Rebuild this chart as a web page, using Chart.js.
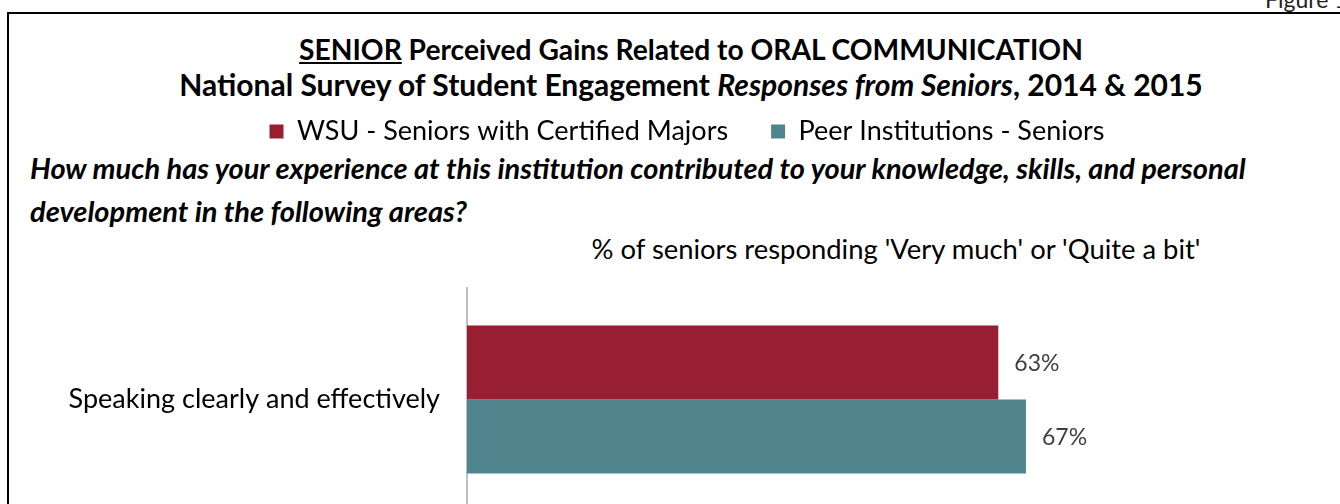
<!DOCTYPE html>
<html>
<head>
<meta charset="utf-8">
<script src="https://cdn.jsdelivr.net/npm/chart.js@4.4.1/dist/chart.umd.min.js"></script>
<style>
  html, body { margin:0; padding:0; width:1340px; height:504px; overflow:hidden; background:#fff; }
  body { position:relative; font-family: Lato, "Open Sans", sans-serif; color:#000; }
  .t { position:absolute; white-space:nowrap; }
  #frame { position:absolute; left:7px; top:12px; width:1400px; height:600px; border:2px solid #000; box-sizing:border-box; }
  #fig { left:1265px; top:-11px; font-size:23px; line-height:20px; color:#222; }
  #title1, #title2 { left:0; width:1382px; text-align:center; font-weight:bold; line-height:34px; }
  #title1 { top:32px; font-size:28.2px; }
  #title2 { top:67px; font-size:30px; }
  #q1, #q2 { left:30px; font-weight:bold; font-style:italic; font-size:29px; line-height:40px; }
  #q1 { top:148px; }
  #q2 { top:191px; }
  #axisTitle { left:560px; width:672px; text-align:center; font-size:27.4px; line-height:34px; top:232px; color:#000; }
  #chartWrap { position:absolute; left:0; top:0; width:1340px; height:520px; }
</style>
</head>
<body>
<div id="frame"></div>
<div class="t" id="fig">Figure 1</div>
<div class="t" id="title1"><span style="text-decoration:underline">SENIOR</span> Perceived Gains Related to ORAL COMMUNICATION</div>
<div class="t" id="title2">National Survey of Student Engagement <i>Responses from Seniors</i>, 2014 &amp; 2015</div>
<div class="t" id="q1">How much has your experience at this institution contributed to your knowledge, skills, and personal</div>
<div class="t" id="q2">development in the following areas?</div>
<div class="t" id="axisTitle">% of seniors responding 'Very much' or 'Quite a bit'</div>
<div id="chartWrap"><canvas id="c" width="1340" height="520"></canvas></div>
<script>
// ---- data ----
const categories = ["Speaking clearly and effectively"];
const seriesNames = ["WSU - Seniors with Certified Majors", "Peer Institutions - Seniors"];
const wsuValues = [63.4];
const peerValues = [66.7];
const seriesColors = ["#981E32", "#50858D"];

const FONT = "Lato, 'Open Sans', sans-serif";
const PAD_TOP = 75;
const AREA_TOP = 288;

const legendBoxHeight = {
  id: 'legendBoxHeight',
  beforeInit(chart) {
    const lg = chart.legend;
    if (!lg) return;
    const orig = lg.fit;
    lg.fit = function () { orig.call(this); this.height = AREA_TOP - PAD_TOP; };
  }
};

const valueLabels = {
  id: 'valueLabels',
  afterDatasetsDraw(chart) {
    const ctx = chart.ctx;
    ctx.save();
    ctx.font = "23px " + FONT;
    ctx.fillStyle = "#404040";
    ctx.textAlign = "left";
    ctx.textBaseline = "middle";
    chart.data.datasets.forEach((ds, di) => {
      const meta = chart.getDatasetMeta(di);
      meta.data.forEach((bar, i) => {
        ctx.fillText(Math.round(ds.data[i]) + "%", bar.x + 16, bar.y + 1);
      });
    });
    ctx.restore();
  }
};

new Chart(document.getElementById('c'), {
  type: 'bar',
  data: {
    labels: categories,
    datasets: [
      { label: seriesNames[0], data: wsuValues, backgroundColor: seriesColors[0], borderWidth: 0 },
      { label: seriesNames[1], data: peerValues, backgroundColor: seriesColors[1], borderWidth: 0 }
    ]
  },
  options: {
    indexAxis: 'y',
    responsive: false,
    animation: false,
    devicePixelRatio: 1,
    layout: { padding: { left: 69, right: 35, top: PAD_TOP, bottom: 9 } },
    datasets: { bar: { categoryPercentage: 0.664, barPercentage: 1.0 } },
    scales: {
      x: { display: false, min: 0, max: 100 },
      y: {
        grid: { display: false, drawTicks: false },
        border: { display: true, color: '#BFBFBF', width: 2 },
        ticks: { color: '#000', font: { family: FONT, size: 27 }, padding: 27 },
        afterFit(scale) {
          scale.width = 467 - 69;
          scale.paddingTop = 0;
          scale.paddingBottom = 0;
        }
      }
    },
    plugins: {
      title: { display: false },
      tooltip: { enabled: false },
      legend: {
        display: true,
        position: 'top',
        labels: {
          boxWidth: 14, boxHeight: 14, padding: 43,
          color: '#000',
          font: { family: FONT, size: 27 }
        }
      }
    }
  },
  plugins: [legendBoxHeight, valueLabels]
});
</script>
</body>
</html>
